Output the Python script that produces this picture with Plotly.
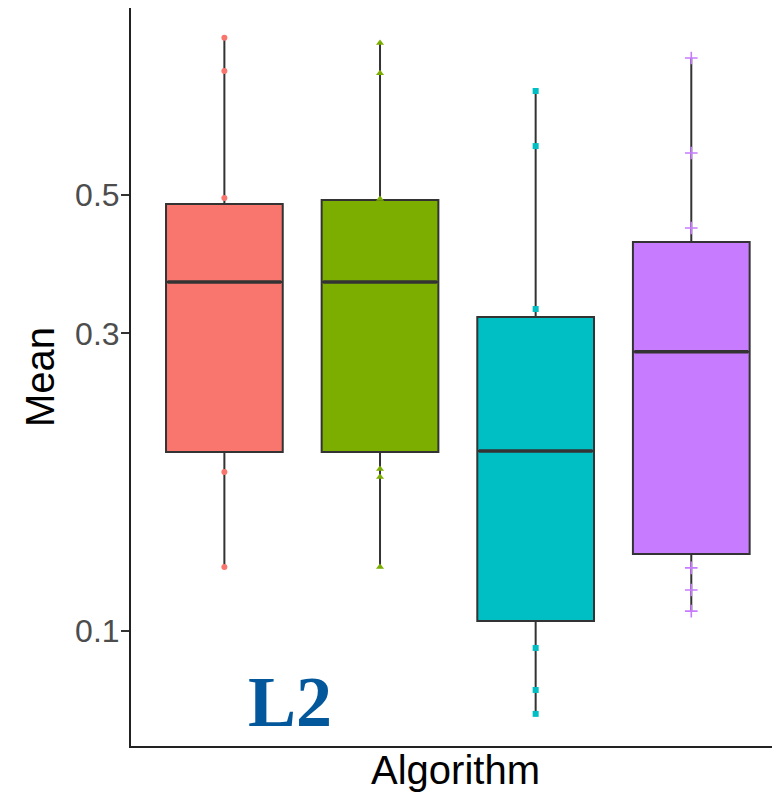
import plotly.graph_objects as go

# ---- data ----
algorithms = [1, 2, 3, 4]
fill_colors = ["#F8766D", "#7CAE00", "#00BFC4", "#C77CFF"]
symbols = ["circle", "triangle-up", "square", "cross-thin"]

q1 = [0.1937, 0.1937, 0.1038, 0.1330]
median = [0.3627, 0.3627, 0.1944, 0.2803]
q3 = [0.4838, 0.4910, 0.3188, 0.4205]
lower = [0.1267, 0.1267, 0.0737, 0.1077]
upper = [0.893, 0.876, 0.734, 0.829]

# visible points (those outside the boxes)
pts_alg1 = [0.893, 0.790, 0.4946, 0.1800, 0.1267]
pts_alg2 = [0.876, 0.784, 0.4928, 0.1819, 0.1767, 0.1267]
pts_alg3 = [0.734, 0.599, 0.3283, 0.0940, 0.0805, 0.0737]
pts_alg4 = [0.829, 0.5839, 0.4428, 0.1263, 0.1164, 0.1077]
points = [pts_alg1, pts_alg2, pts_alg3, pts_alg4]

y_ticks = [0.1, 0.3, 0.5]

BOX_W = 0.75

fig = go.Figure()

for i, a in enumerate(algorithms):
    fig.add_trace(go.Box(
        x=[a], q1=[q1[i]], median=[median[i]], q3=[q3[i]],
        lowerfence=[lower[i]], upperfence=[upper[i]],
        fillcolor=fill_colors[i],
        line=dict(color="#333333", width=2),
        whiskerwidth=0, width=BOX_W, boxpoints=False,
        showlegend=False, hoverinfo="skip",
    ))

# thicker median lines (ggplot style)
for i, a in enumerate(algorithms):
    fig.add_trace(go.Scatter(
        x=[a - BOX_W / 2 + 0.01, a + BOX_W / 2 - 0.01], y=[median[i], median[i]],
        mode="lines", line=dict(color="#333333", width=3.5),
        showlegend=False, hoverinfo="skip",
    ))

for i, a in enumerate(algorithms):
    sym = symbols[i]
    if sym == "cross-thin":
        marker = dict(color=fill_colors[i], size=9, symbol=sym,
                      line=dict(color=fill_colors[i], width=1.6))
    elif sym == "triangle-up":
        marker = dict(color=fill_colors[i], size=7, symbol=sym)
    else:
        marker = dict(color=fill_colors[i], size=6, symbol=sym)
    fig.add_trace(go.Scatter(
        x=[a] * len(points[i]), y=points[i], mode="markers",
        marker=marker, showlegend=False, hoverinfo="skip",
    ))

fig.add_annotation(
    text="<b>L2</b>", x=1.42, y=-1.113, xref="x", yref="y",
    showarrow=False,
    font=dict(family="Liberation Serif", size=72, color="#03589B"),
)

fig.update_layout(
    width=772, height=788,
    margin=dict(l=123, r=0, t=0, b=50),
    paper_bgcolor="white", plot_bgcolor="white",
    font=dict(family="Liberation Sans", color="#000000"),
    xaxis=dict(
        range=[0.4, 4.57], showticklabels=False, ticks="",
        showgrid=False, zeroline=False,
        showline=True, linecolor="#222222", linewidth=2,
        title=dict(text="Algorithm", font=dict(size=40, color="#000000"), standoff=9),
    ),
    yaxis=dict(
        type="log", range=[-1.184, -0.0013],
        tickvals=y_ticks, ticktext=[str(v) for v in y_ticks],
        tickfont=dict(size=32, color="#4D4D4D"),
        ticks="outside", ticklen=8, tickwidth=2, tickcolor="#333333",
        ticklabelstandoff=-5,
        showgrid=False, zeroline=False,
        showline=True, linecolor="#222222", linewidth=2,
        title=dict(text="Mean", font=dict(size=40, color="#000000"), standoff=8),
    ),
)

fig.write_html("out.html")
